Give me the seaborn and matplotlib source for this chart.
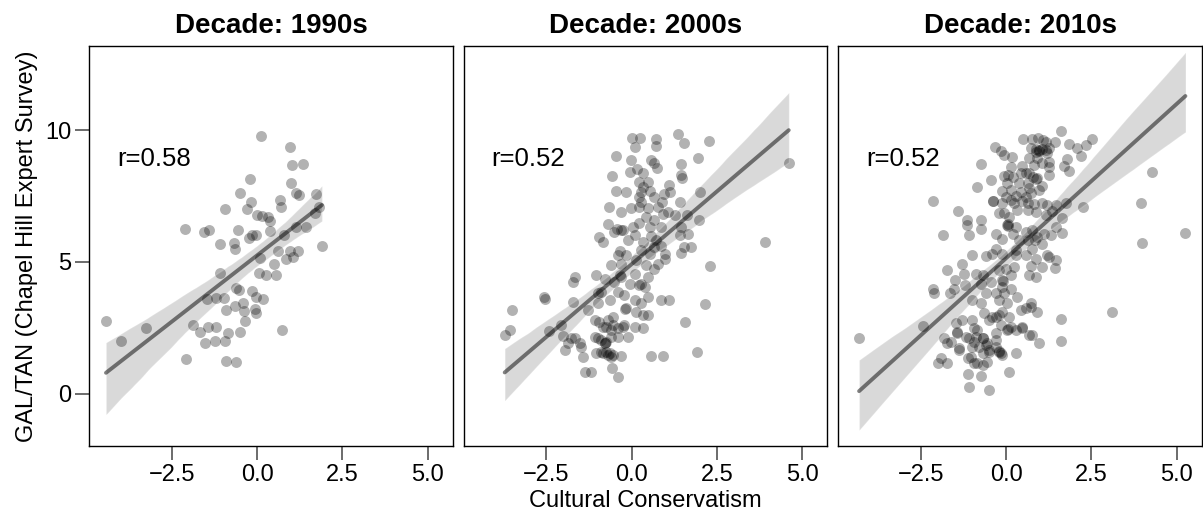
import matplotlib
matplotlib.use("Agg")
import matplotlib.pyplot as plt
import seaborn as sns

# Cultural conservatism (x) vs. GAL/TAN (y), one pair of lists per decade
x_1990s = [-4.43, -4.00, -3.26, -2.11, -2.07, -1.89, -1.68, -1.56, -1.41, -1.52,
           -1.48, -1.43, -1.21, -1.23, -1.19, -1.09, -1.09, -0.98, -0.94, -0.94,
           -0.92, -0.90, -0.84, -0.68, -0.64, -0.64, -0.63, -0.55, -0.61, -0.53,
           -0.49, -0.49, -0.41, -0.35, -0.38, -0.29, -0.25, -0.20, -0.17, -0.16,
           -0.14, -0.06, -0.02, -0.02, 0.00, -0.02, 0.11, 0.06, 0.08, 0.14,
           0.16, 0.25, 0.33, 0.39, 0.39, 0.49, 0.55, 0.61, 0.68, 0.70,
           0.72, 0.78, 0.84, 0.96, 1.01, 1.02, 0.96, 1.04, 1.15, 1.23,
           1.21, 1.15, 1.35, 1.45, 1.74, 1.70, 1.82, 1.90]
y_1990s = [2.76, 2.00, 2.48, 6.25, 1.31, 2.60, 2.33, 6.14, 6.23, 1.91,
           3.59, 2.52, 2.54, 2.01, 3.65, 4.59, 5.70, 3.64, 7.00, 2.00,
           1.24, 3.17, 2.29, 5.73, 5.51, 3.34, 1.19, 6.21, 4.00, 3.93,
           7.62, 2.33, 3.43, 2.77, 3.15, 7.00, 5.92, 8.13, 7.29, 3.89,
           6.01, 3.20, 6.02, 3.68, 6.78, 3.05, 9.77, 4.59, 5.17, 6.74,
           3.60, 4.50, 6.69, 6.56, 6.18, 4.91, 4.50, 5.42, 7.37, 7.09,
           2.43, 6.01, 5.11, 9.37, 8.00, 8.69, 5.40, 5.20, 7.62, 7.53,
           5.42, 6.33, 8.71, 6.33, 7.57, 6.84, 7.09, 5.60]

x_2000s = [0.02, 0.25, 0.72, 1.36, 1.55, 2.26, 0.10, 0.72, -0.45, -0.01,
           0.58, 0.67, 0.75, 1.46, 1.95, 4.61, -0.58, -0.04, 0.17, 0.34,
           1.46, 1.48, 0.21, 0.48, 0.33, 1.11, 2.01, -0.46, -0.16, 0.28,
           0.53, 0.21, 0.67, 0.94, 1.14, 1.41, 0.89, 0.28, -0.66, -0.30,
           -0.03, 0.21, 0.48, 0.77, 1.06, 1.28, 1.63, 1.99, -0.69, -0.43,
           -0.25, 0.04, 0.21, 0.43, 0.67, 0.92, 0.53, 1.46, 1.65, 0.87,
           -0.94, -0.84, -0.50, -0.30, -0.11, 0.09, 0.33, 0.58, 0.72, 0.67,
           0.87, 1.43, 1.55, 1.73, 3.90, -0.35, 0.28, 0.97, 1.46, -0.40,
           -0.16, 0.53, -0.60, -0.30, 0.14, 0.43, 0.67, 0.97, 0.77, 2.29,
           -1.72, -1.65, -1.04, -0.79, -0.50, -0.35, -0.32, -0.06, 0.28, 0.48,
           0.09, -2.57, -2.53, -1.72, -1.28, -0.99, -0.89, -0.64, -0.40, -0.21,
           0.09, 0.28, 0.48, 0.38, 0.87, 1.11, 2.16, -3.51, -3.57, -3.72,
           -2.42, -2.06, -2.01, -1.77, -1.67, -1.96, -1.47, -1.43, -1.08, -0.94,
           -0.84, -0.69, -0.55, -0.40, -0.25, -0.19, 0.14, 0.33, 0.48, 0.09,
           0.33, -0.60, -0.11, -0.40, -1.08, -0.89, -0.74, -1.04, -0.84, -0.69,
           -0.60, -0.30, 0.58, 0.92, 1.91, 1.58, -1.36, -1.20, -0.57, -0.40,
           -0.79, -0.74, -0.16, 0.23, -0.60, -0.99,
           -1.87, -1.52, -0.99, -0.79, -0.64, -0.55, -0.74, -0.55, -0.21, -0.89]
y_2000s = [9.71, 9.71, 9.67, 9.84, 9.52, 9.60, 9.37, 9.39, 9.03, 8.86,
           8.86, 8.76, 8.58, 8.72, 8.95, 8.77, 8.27, 8.42, 8.51, 8.39,
           8.29, 8.19, 8.04, 8.02, 7.85, 7.91, 7.64, 7.70, 7.66, 7.66,
           7.70, 7.47, 7.47, 7.57, 7.66, 7.26, 7.28, 7.28, 7.07, 6.90,
           7.03, 7.09, 7.03, 7.09, 6.90, 6.78, 6.78, 6.59, 6.46, 6.25,
           6.21, 6.33, 6.49, 6.71, 6.59, 6.81, 6.33, 6.33, 6.08, 6.33,
           5.95, 5.74, 6.14, 6.21, 5.83, 6.02, 5.76, 5.98, 5.83, 5.58,
           5.60, 6.02, 5.55, 5.55, 5.76, 5.42, 5.47, 5.32, 5.35, 5.26,
           5.26, 5.32, 4.88, 4.94, 5.07, 4.88, 4.75, 5.13, 4.94, 4.85,
           4.25, 4.44, 4.50, 4.37, 4.25, 4.50, 4.44, 4.18, 4.18, 4.44,
           4.56, 3.68, 3.58, 3.49, 3.17, 3.43, 3.87, 3.55, 3.87, 3.74,
           3.55, 3.43, 3.68, 4.06, 3.55, 3.55, 3.39, 3.17, 2.41, 2.23,
           2.39, 2.60, 2.19, 2.10, 2.10, 1.66, 1.78, 1.40, 2.79, 2.73,
           2.54, 2.79, 2.92, 2.48, 2.54, 3.20, 3.11, 2.98, 2.98, 2.54,
           2.48, 2.16, 2.16, 2.14, 2.14, 2.04, 1.97, 1.53, 1.53, 1.47,
           1.40, 1.43, 1.43, 1.43, 1.57, 2.71, 0.83, 0.83, 0.99, 0.62,
           1.91, 1.59, 3.24, 4.12, 2.41, 3.81,
           1.91, 1.91, 2.10, 1.91, 1.53, 1.47, 2.54, 2.60, 2.60, 1.60]

x_2010s = [1.60, 0.51, 0.77, 0.95, 1.16, 1.43, 2.53, 2.33, 1.85, 2.09,
           2.21, -0.33, -0.16, 0.72, 0.87, 1.06, 1.26, 0.17, 0.67, 0.92,
           1.21, 0.97, -0.74, 0.14, 0.48, 0.82, 1.06, 1.26, 1.80, 1.70,
           1.85, 4.29, -0.84, -0.43, -0.06, 0.19, 0.43, 0.67, 0.79, 1.26,
           0.04, 0.38, 0.63, 0.87, 1.06, -0.13, 0.14, 0.43, 0.67, 0.97,
           0.72, 0.58, 0.28, -0.01, -2.14, -1.41, -1.15, -0.74, -0.37, -0.11,
           0.14, 0.23, 0.48, 0.63, 0.82, 1.06, 1.21, 1.46, 1.75, 2.26,
           3.95, -1.15, -1.08, -0.74, -0.21, -0.06, 0.09, 0.33, 0.63, 0.87,
           1.16, 1.36, 1.65, 0.04, 0.07, 0.28, 0.58, 0.77, 0.92, 1.11,
           1.31, 1.65, 1.46, -1.85, -0.30, -0.11, 0.19, 0.38, 0.63, 0.85,
           1.06, 3.99, 5.26, -0.30, 0.28, 0.77, -0.40, 1.21, -0.99, -0.60,
           -0.11, 0.28, 0.58, 0.87, 1.26, 1.46, 0.72, 1.06, 1.44, -1.72,
           -1.30, -1.23, -1.49, -1.19, -0.89, -0.69, -0.74, -0.45, -0.21, -0.01,
           0.23, -0.11, 0.14, 0.67, 0.87, -2.14, -2.11, -1.64, -1.52, -0.99,
           -0.74, -0.60, -0.30, -0.11, -0.06, 0.14, 0.33, 0.43, 0.58, 0.72,
           0.92, 0.04, -0.21, -2.45, -4.31, -1.47, -1.28, -1.43, -0.99, -0.84,
           -0.64, -0.50, -0.30, -0.11, 0.09, -0.16, 0.14, 0.28, 0.48, 0.67,
           0.77, 0.97, 1.60, 1.62, 3.12, -1.82, -1.62, -1.38, -1.08, -0.89,
           -0.69, -0.99, -0.79, -0.55, -0.30, -0.30, -0.21, -0.16, 0.28, -0.11,
           -0.50, -2.01, -1.91, -1.72, -1.13, -0.94, -0.69, -0.55, 0.09, -1.13,
           -0.74, -1.10, -0.50,
           0.04, 0.07, -0.69, -0.37, 0.97, -0.21, 0.06, -0.09,
           1.07, -0.06, 0.87, 1.16, 0.06, 0.58, 0.92, 1.26,
           -1.72, -1.43, -1.18, -0.94, -0.94, -1.38, -1.04, -0.84, -0.60, -0.69,
           -0.50, -0.30, 0.48, 0.72, -0.40, -0.20]
y_2010s = [9.96, 9.67, 9.65, 9.71, 9.56, 9.56, 9.65, 9.43, 9.46, 9.34,
           9.03, 9.37, 9.22, 9.34, 9.30, 9.30, 9.34, 8.99, 8.93, 8.93,
           9.12, 9.24, 8.71, 8.61, 8.63, 8.67, 8.74, 8.61, 8.89, 8.65,
           8.46, 8.42, 7.85, 8.10, 8.26, 8.23, 8.36, 8.36, 8.23, 8.29,
           7.98, 8.00, 7.98, 8.13, 7.88, 7.70, 7.75, 7.66, 7.79, 7.72,
           7.60, 7.47, 7.50, 7.47, 7.31, 6.93, 6.59, 6.59, 7.32, 7.24,
           7.35, 7.24, 7.32, 7.22, 7.19, 7.22, 7.16, 7.16, 7.22, 7.07,
           7.22, 6.40, 6.02, 6.27, 6.84, 6.86, 6.71, 6.97, 6.99, 6.90,
           6.78, 6.94, 6.65, 6.40, 6.43, 6.33, 6.14, 6.21, 5.95, 6.08,
           6.02, 6.11, 6.33, 6.02, 6.08, 5.89, 6.08, 5.83, 5.83, 5.83,
           5.70, 5.73, 6.11, 5.51, 5.45, 5.51, 5.32, 5.26, 5.26, 5.22,
           5.32, 5.26, 5.26, 5.13, 5.20, 5.09, 4.84, 4.82, 4.79, 4.69,
           4.92, 4.56, 4.31, 4.12, 4.56, 4.50, 4.18, 4.25, 4.69, 4.75,
           4.82, 4.31, 4.50, 4.50, 4.44, 3.99, 3.81, 3.81, 3.99, 3.55,
           3.43, 3.81, 3.81, 4.06, 3.81, 3.99, 3.68, 3.17, 3.24, 3.45,
           3.11, 3.43, 3.55, 2.57, 2.10, 2.67, 2.79, 2.31, 2.79, 2.41,
           3.05, 2.79, 2.92, 3.11, 2.92, 2.60, 2.54, 2.41, 2.48, 2.23,
           2.23, 1.91, 2.82, 2.01, 3.11, 2.10, 1.97, 1.72, 2.10, 2.16,
           2.10, 1.78, 1.78, 1.91, 2.04, 1.78, 1.59, 1.53, 1.55, 1.47,
           1.59, 1.18, 1.34, 1.15, 1.34, 1.15, 1.09, 1.21, 0.83, 0.75,
           0.67, 0.27, 0.16,
           2.41, 2.45, 2.12, 7.30, 9.20, 1.62, 6.38, 4.28,
           9.62, 9.05, 9.18, 9.24, 8.30, 8.36, 8.17, 8.80,
           1.91, 2.35, 2.16, 2.48, 1.97, 1.66, 1.40, 1.15, 1.85, 1.53,
           1.66, 2.29, 2.54, 3.30, 2.90, 2.98]

decades = ["1990s", "2000s", "2010s"]
xs = [x_1990s, x_2000s, x_2010s]
ys = [y_1990s, y_2000s, y_2010s]
r_labels = ["r=0.58", "r=0.52", "r=0.52"]
x_ticks = [-2.5, 0.0, 2.5, 5.0]
y_ticks = [0, 5, 10]

sns.set_theme(style="white")
plt.rcParams["font.family"] = ["Liberation Sans", "DejaVu Sans"]
plt.rcParams["axes.unicode_minus"] = True
plt.rcParams["text.color"] = "black"
plt.rcParams["axes.labelcolor"] = "black"
plt.rcParams["xtick.color"] = "black"
plt.rcParams["ytick.color"] = "black"

fig, axes = plt.subplots(1, 3, figsize=(12.03, 5.15), dpi=100, sharey=True)
fig.subplots_adjust(left=0.0742, right=0.999, bottom=0.134, top=0.911, wspace=0.0302)

for i, ax in enumerate(axes):
    sns.regplot(
        x=xs[i], y=ys[i], ax=ax, color="black", seed=7,
        scatter_kws=dict(s=62, alpha=0.3, linewidths=0),
        line_kws=dict(alpha=0.5, linewidth=2.8),
    )
    ax.set_xlim(-4.92, 5.74)
    ax.set_ylim(-1.98, 13.2)
    ax.set_xticks(x_ticks)
    ax.set_yticks(y_ticks)
    ax.set_title(f"Decade: {decades[i]}", fontsize=20, fontweight="bold",
                 pad=9, color="black")
    ax.text(-4.1, 8.63, r_labels[i], fontsize=18.5, ha="left", va="baseline",
            color="black")
    for s in ax.spines.values():
        s.set_visible(True)
        s.set_color("black")
        s.set_linewidth(1.0)
    ax.tick_params(direction="out", length=10, width=1.1, color="#444444",
                   labelcolor="black", labelsize=17, pad=3, bottom=True,
                   left=(i == 0), labelleft=(i == 0))
    ax.set_xlabel("")
    ax.set_ylabel("")

axes[0].set_ylabel("GAL/TAN (Chapel Hill Expert Survey)", fontsize=17,
                   labelpad=5, color="black")
axes[1].set_xlabel("Cultural Conservatism", fontsize=17, labelpad=3,
                   color="black")

fig.savefig("out.png", dpi=100)
